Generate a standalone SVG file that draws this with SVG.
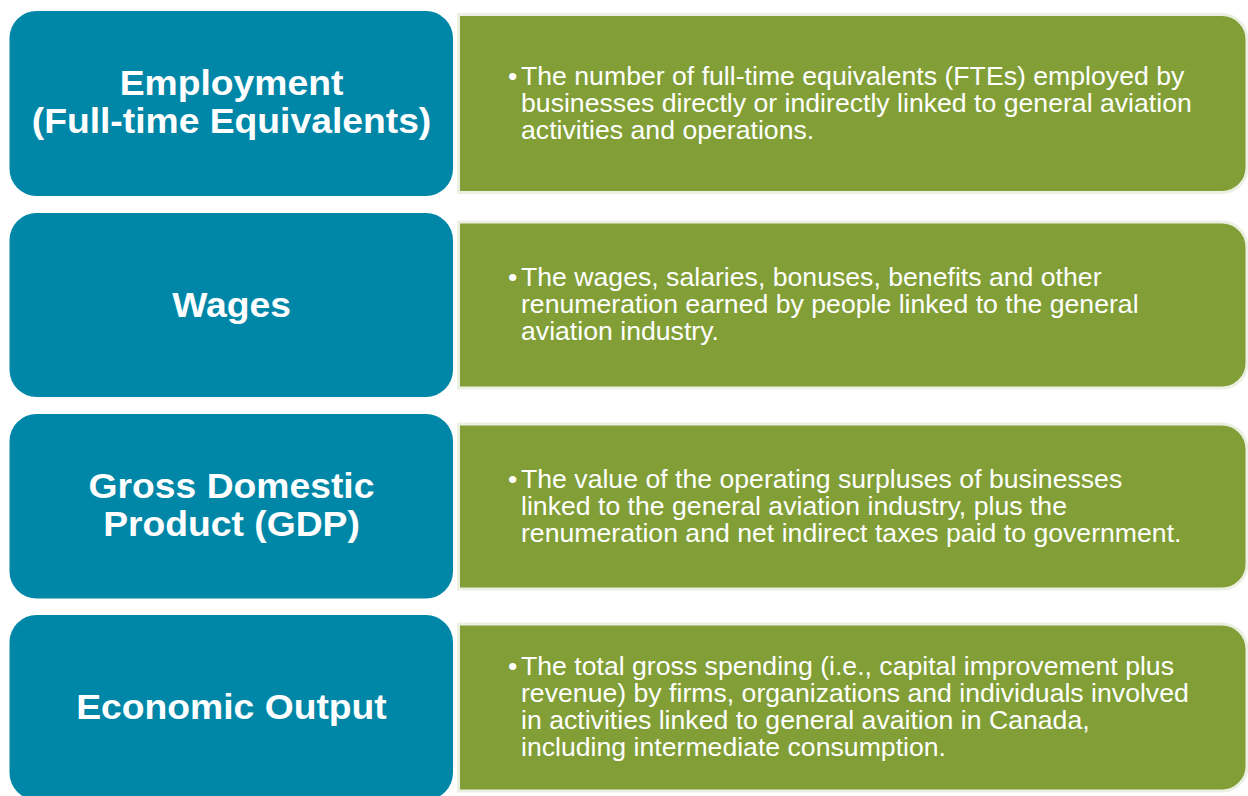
<svg xmlns="http://www.w3.org/2000/svg" width="1248" height="796" viewBox="0 0 1248 796">
<style>
.bl{fill:#0087A8}
.gr{fill:#819F36;stroke:#EBF0E2;stroke-width:3}
.h{font-family:"Liberation Sans",Arial,sans-serif;font-weight:bold;font-size:35px;fill:#FFFFFF;text-anchor:middle}
.t{font-family:"Liberation Sans",Arial,sans-serif;font-size:25px;fill:#FFFFFF}
</style>
<rect width="1248" height="796" fill="#FFFFFF"/>
<g id="row1">
<rect class="bl" x="9.5" y="11" width="443.5" height="185" rx="27"/>
<g transform="translate(231.5,0) scale(1.065,1)"><text class="h" x="0" y="95">Employment</text><text class="h" x="0" y="133">(Full-time Equivalents)</text></g>
<path class="gr" d="M458.5,14.5 H1222 A25,25 0 0 1 1247,39.5 V167.5 A25,25 0 0 1 1222,192.5 H458.5 Z"/>
<g transform="translate(521,0) scale(1.066,1)"><text class="t" x="-12.2" y="85">•</text><text class="t" x="0" y="85">The number of full-time equivalents (FTEs) employed by</text><text class="t" x="0" y="112">businesses directly or indirectly linked to general aviation</text><text class="t" x="0" y="139">activities and operations.</text></g>
</g>
<g id="row2">
<rect class="bl" x="9.5" y="213" width="443.5" height="184" rx="27"/>
<g transform="translate(231.5,0) scale(1.065,1)"><text class="h" x="0" y="317">Wages</text></g>
<path class="gr" d="M458.5,222 H1222 A25,25 0 0 1 1247,247 V363 A25,25 0 0 1 1222,388 H458.5 Z"/>
<g transform="translate(521,0) scale(1.066,1)"><text class="t" x="-12.2" y="286">•</text><text class="t" x="0" y="286">The wages, salaries, bonuses, benefits and other</text><text class="t" x="0" y="313">renumeration earned by people linked to the general</text><text class="t" x="0" y="340">aviation industry.</text></g>
</g>
<g id="row3">
<rect class="bl" x="9.5" y="414" width="443.5" height="184.5" rx="27"/>
<g transform="translate(231.5,0) scale(1.065,1)"><text class="h" x="0" y="498">Gross Domestic</text><text class="h" x="0" y="536">Product (GDP)</text></g>
<path class="gr" d="M458.5,424 H1222 A25,25 0 0 1 1247,449 V564 A25,25 0 0 1 1222,589 H458.5 Z"/>
<g transform="translate(521,0) scale(1.066,1)"><text class="t" x="-12.2" y="488">•</text><text class="t" x="0" y="488">The value of the operating surpluses of businesses</text><text class="t" x="0" y="515">linked to the general aviation industry, plus the</text><text class="t" x="0" y="542">renumeration and net indirect taxes paid to government.</text></g>
</g>
<g id="row4">
<rect class="bl" x="9.5" y="615" width="443.5" height="185" rx="27"/>
<g transform="translate(231.5,0) scale(1.065,1)"><text class="h" x="0" y="719.5">Economic Output</text></g>
<path class="gr" d="M458.5,624 H1222 A25,25 0 0 1 1247,649 V766 A25,25 0 0 1 1222,791 H458.5 Z"/>
<g transform="translate(521,0) scale(1.066,1)"><text class="t" x="-12.2" y="675">•</text><text class="t" x="0" y="675">The total gross spending (i.e., capital improvement plus</text><text class="t" x="0" y="702">revenue) by firms, organizations and individuals involved</text><text class="t" x="0" y="729">in activities linked to general avaition in Canada,</text><text class="t" x="0" y="756">including intermediate consumption.</text></g>
</g>
<g id="connectors"></g>
</svg>
